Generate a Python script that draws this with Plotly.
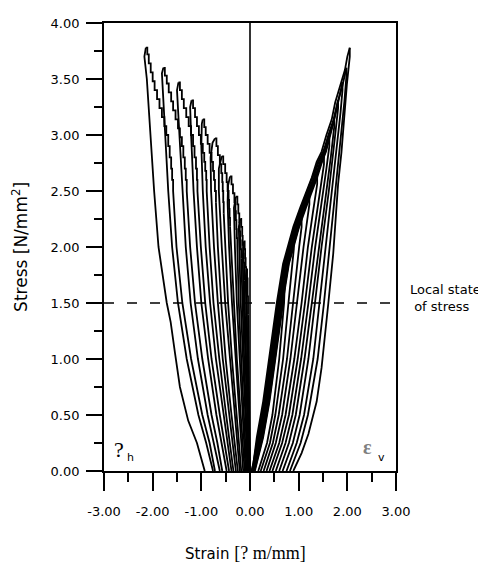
import plotly.graph_objects as go

# ---------------- data: left fan (horizontal strain, eps_h) ----------------
# rising (outer, smooth) branches, one list per load cycle
LEFT_SMOOTH_Y = [
    [0, 0.1, 0.25, 0.45, 0.75, 1.05, 1.33, 1.5, 2.0, 2.5, 3.0, 3.5, 3.7, 3.78],
    [0, 0.25, 0.5, 1.0, 1.5, 2.0, 2.5, 3.0, 3.4, 3.55, 3.60],
    [0, 0.25, 0.5, 1.0, 1.5, 2.0, 2.5, 3.0, 3.4, 3.47],
    [0, 0.25, 0.5, 1.0, 1.5, 2.0, 2.5, 3.0, 3.25, 3.31],
    [0, 0.25, 0.5, 1.0, 1.5, 2.0, 2.5, 2.9, 3.1, 3.14],
    [0, 0.25, 0.5, 1.0, 1.5, 2.0, 2.5, 2.8, 2.93, 2.97],
    [0, 0.25, 0.5, 1.0, 1.5, 2.0, 2.5, 2.7, 2.81],
    [0, 0.5, 1.0, 1.5, 2.0, 2.4, 2.55, 2.63],
    [0, 0.5, 1.0, 1.5, 2.0, 2.35, 2.45],
    [0, 0.5, 1.0, 1.5, 2.0, 2.18, 2.25],
    [0, 0.5, 1.0, 1.5, 1.9, 2.05],
    [0, 0.5, 1.0, 1.5, 1.72, 1.80],
]
LEFT_SMOOTH_X = [
    [-0.93, -0.99, -1.09, -1.27, -1.44, -1.54, -1.63, -1.71, -1.88, -1.97, -2.04, -2.12, -2.17, -2.14],
    [-0.76, -0.90, -1.06, -1.30, -1.48, -1.60, -1.68, -1.74, -1.80, -1.81, -1.78],
    [-0.62, -0.74, -0.87, -1.07, -1.22, -1.32, -1.39, -1.45, -1.50, -1.47],
    [-0.48, -0.58, -0.69, -0.86, -1.00, -1.09, -1.16, -1.21, -1.23, -1.20],
    [-0.38, -0.46, -0.55, -0.70, -0.82, -0.91, -0.97, -1.00, -0.99, -0.97],
    [-0.29, -0.36, -0.43, -0.56, -0.66, -0.74, -0.80, -0.81, -0.77, -0.72],
    [-0.21, -0.26, -0.32, -0.42, -0.51, -0.58, -0.64, -0.64, -0.58],
    [-0.14, -0.22, -0.30, -0.37, -0.43, -0.46, -0.45, -0.41],
    [-0.09, -0.15, -0.21, -0.27, -0.31, -0.33, -0.29],
    [-0.05, -0.10, -0.15, -0.19, -0.22, -0.23, -0.20],
    [-0.02, -0.06, -0.10, -0.13, -0.15, -0.13],
    [0.00, -0.03, -0.06, -0.08, -0.09, -0.07],
]
# falling (inner, jagged) branches: upper stepped part
LEFT_JAG_TOP_Y = [
    [3.78, 3.72, 3.64, 3.56, 3.48, 3.40, 3.32, 3.24, 3.16, 3.08, 3.00, 2.90, 2.80, 2.70, 2.60, 2.50],
    [3.60, 3.53, 3.46, 3.38, 3.30, 3.22, 3.14, 3.06, 2.98, 2.90, 2.80, 2.70, 2.60, 2.50],
    [3.47, 3.40, 3.32, 3.24, 3.16, 3.08, 3.00, 2.90, 2.80, 2.70, 2.60, 2.50],
    [3.31, 3.24, 3.16, 3.08, 3.00, 2.92, 2.84, 2.76, 2.68, 2.60, 2.50],
    [3.14, 3.07, 3.00, 2.92, 2.84, 2.76, 2.68, 2.60, 2.50, 2.40],
    [2.97, 2.90, 2.82, 2.74, 2.66, 2.58, 2.50, 2.40, 2.30],
    [2.81, 2.74, 2.66, 2.58, 2.50, 2.42, 2.34, 2.26, 2.18],
    [2.63, 2.56, 2.48, 2.40, 2.32, 2.24, 2.16, 2.08, 2.00],
    [2.45, 2.38, 2.30, 2.22, 2.14, 2.06, 1.98, 1.90],
    [2.25, 2.18, 2.10, 2.02, 1.94, 1.86, 1.78, 1.70],
    [2.05, 1.98, 1.90, 1.82, 1.74, 1.66, 1.58, 1.50],
    [1.80, 1.72, 1.64, 1.56, 1.48, 1.40],
]
LEFT_JAG_TOP_X = [
    [-2.14, -2.11, -2.08, -2.04, -2.00, -1.96, -1.91, -1.86, -1.81, -1.76, -1.72, -1.68, -1.65, -1.62, -1.60, -1.58],
    [-1.78, -1.75, -1.71, -1.67, -1.62, -1.58, -1.53, -1.48, -1.44, -1.40, -1.37, -1.34, -1.32, -1.30],
    [-1.47, -1.44, -1.40, -1.36, -1.31, -1.26, -1.21, -1.17, -1.14, -1.11, -1.09, -1.08],
    [-1.20, -1.17, -1.13, -1.09, -1.05, -1.01, -0.97, -0.94, -0.92, -0.90, -0.89],
    [-0.97, -0.94, -0.91, -0.87, -0.83, -0.79, -0.76, -0.74, -0.72, -0.70],
    [-0.72, -0.69, -0.66, -0.62, -0.59, -0.57, -0.56, -0.55, -0.54],
    [-0.58, -0.55, -0.51, -0.48, -0.46, -0.44, -0.43, -0.42, -0.41],
    [-0.41, -0.38, -0.35, -0.32, -0.30, -0.29, -0.28, -0.27, -0.26],
    [-0.29, -0.26, -0.24, -0.22, -0.21, -0.20, -0.19, -0.18],
    [-0.20, -0.18, -0.16, -0.15, -0.14, -0.13, -0.12, -0.12],
    [-0.13, -0.11, -0.10, -0.09, -0.08, -0.08, -0.07, -0.07],
    [-0.07, -0.06, -0.05, -0.05, -0.04, -0.04],
]
# falling branches: lower part
LEFT_JAG_LOW_Y = [
    [2.50, 2.00, 1.50, 1.00, 0.50, 0.25, 0.00],
    [2.50, 2.00, 1.50, 1.00, 0.50, 0.25, 0.00],
    [2.50, 2.00, 1.50, 1.00, 0.50, 0.25, 0.00],
    [2.50, 2.00, 1.50, 1.00, 0.50, 0.25, 0.00],
    [2.40, 2.00, 1.50, 1.00, 0.50, 0.25, 0.00],
    [2.30, 2.00, 1.50, 1.00, 0.50, 0.25, 0.00],
    [2.18, 1.50, 1.00, 0.50, 0.00],
    [2.00, 1.50, 1.00, 0.50, 0.00],
    [1.90, 1.50, 1.00, 0.50, 0.00],
    [1.70, 1.00, 0.50, 0.00],
    [1.50, 1.00, 0.50, 0.00],
    [1.40, 0.70, 0.00],
]
LEFT_JAG_LOW_X = [
    [-1.58, -1.51, -1.39, -1.21, -0.98, -0.83, -0.72],
    [-1.30, -1.23, -1.13, -0.98, -0.79, -0.67, -0.57],
    [-1.08, -1.01, -0.92, -0.79, -0.62, -0.52, -0.43],
    [-0.89, -0.83, -0.75, -0.63, -0.49, -0.41, -0.34],
    [-0.70, -0.66, -0.59, -0.50, -0.38, -0.31, -0.25],
    [-0.54, -0.51, -0.45, -0.37, -0.28, -0.23, -0.18],
    [-0.41, -0.33, -0.27, -0.19, -0.11],
    [-0.26, -0.23, -0.18, -0.12, -0.07],
    [-0.18, -0.16, -0.12, -0.08, -0.04],
    [-0.12, -0.08, -0.05, -0.02],
    [-0.07, -0.05, -0.03, -0.01],
    [-0.04, -0.02, 0.00],
]

# ---------------- data: right fan (vertical strain, eps_v) ----------------
RIGHT_SMOOTH_Y = [
    [3.78, 3.70, 3.45, 3.14, 2.85, 2.56, 2.27, 1.94, 1.50, 0.92, 0.62, 0.33, 0.16, 0.0],
    [3.60, 3.52, 3.3, 3.0, 2.5, 2.0, 1.5, 1.0, 0.5, 0.25, 0],
    [3.47, 3.40, 3.2, 3.0, 2.5, 2.0, 1.5, 1.0, 0.5, 0.25, 0],
    [3.31, 3.24, 3.0, 2.5, 2.0, 1.5, 1.0, 0.5, 0.25, 0],
    [3.14, 3.07, 2.8, 2.5, 2.0, 1.5, 1.0, 0.5, 0.25, 0],
    [2.97, 2.90, 2.7, 2.5, 2.0, 1.5, 1.0, 0.5, 0.25, 0],
    [2.81, 2.74, 2.5, 2.0, 1.5, 1.0, 0.5, 0.25, 0],
    [2.63, 2.56, 2.3, 2.0, 1.5, 1.0, 0.5, 0.25, 0],
    [2.45, 2.38, 2.0, 1.5, 1.0, 0.5, 0.25, 0],
    [2.25, 2.18, 2.0, 1.5, 1.0, 0.5, 0.25, 0],
    [2.05, 1.98, 1.5, 1.0, 0.5, 0.25, 0],
    [1.80, 1.73, 1.5, 1.0, 0.5, 0.25, 0],
]
RIGHT_SMOOTH_X = [
    [2.05, 2.05, 1.99, 1.94, 1.88, 1.81, 1.77, 1.71, 1.61, 1.47, 1.37, 1.20, 1.06, 0.89],
    [1.98, 1.98, 1.94, 1.87, 1.75, 1.64, 1.52, 1.39, 1.19, 1.04, 0.82],
    [1.90, 1.90, 1.86, 1.81, 1.68, 1.56, 1.44, 1.30, 1.11, 0.96, 0.75],
    [1.81, 1.81, 1.75, 1.62, 1.47, 1.34, 1.20, 1.02, 0.88, 0.67],
    [1.73, 1.73, 1.66, 1.57, 1.41, 1.27, 1.12, 0.94, 0.80, 0.60],
    [1.63, 1.63, 1.57, 1.50, 1.34, 1.20, 1.05, 0.87, 0.73, 0.53],
    [1.52, 1.52, 1.44, 1.27, 1.13, 0.98, 0.80, 0.66, 0.46],
    [1.38, 1.38, 1.29, 1.19, 1.06, 0.91, 0.73, 0.60, 0.40],
    [1.22, 1.22, 1.10, 0.96, 0.83, 0.66, 0.53, 0.34],
    [1.06, 1.06, 1.01, 0.89, 0.76, 0.59, 0.47, 0.28],
    [0.90, 0.90, 0.79, 0.68, 0.52, 0.41, 0.22],
    [0.72, 0.72, 0.70, 0.60, 0.46, 0.35, 0.17],
]
RIGHT_JAG_Y = [
    [0, 0.07, 0.30, 0.62, 1.06, 1.50, 1.85, 2.03, 2.18, 2.35, 2.47, 2.62, 2.76, 2.85, 3.0, 3.14, 3.29, 3.44, 3.58, 3.70, 3.78],
    [0, 0.30, 0.62, 1.06, 1.50, 1.85, 2.03, 2.18, 2.35, 2.47, 2.62, 2.76, 2.85, 3.0, 3.14, 3.29, 3.44, 3.60],
    [0, 0.30, 0.62, 1.06, 1.50, 1.85, 2.03, 2.18, 2.35, 2.47, 2.62, 2.76, 2.85, 3.0, 3.14, 3.29, 3.47],
    [0, 0.30, 0.62, 1.06, 1.50, 1.85, 2.03, 2.18, 2.35, 2.47, 2.62, 2.76, 2.85, 3.0, 3.14, 3.31],
    [0, 0.30, 0.62, 1.06, 1.50, 1.85, 2.03, 2.18, 2.35, 2.47, 2.62, 2.76, 2.85, 3.0, 3.14],
    [0, 0.30, 0.62, 1.06, 1.50, 1.85, 2.03, 2.18, 2.35, 2.47, 2.62, 2.76, 2.85, 2.97],
    [0, 0.30, 0.62, 1.06, 1.50, 1.85, 2.03, 2.18, 2.35, 2.47, 2.62, 2.72, 2.81],
    [0, 0.30, 0.62, 1.06, 1.50, 1.85, 2.03, 2.18, 2.35, 2.47, 2.55, 2.63],
    [0, 0.30, 0.62, 1.06, 1.50, 1.85, 2.03, 2.18, 2.30, 2.38, 2.45],
    [0, 0.30, 0.62, 1.06, 1.50, 1.85, 2.03, 2.15, 2.25],
    [0, 0.30, 0.62, 1.06, 1.50, 1.75, 1.92, 2.05],
    [0, 0.30, 0.62, 1.06, 1.50, 1.68, 1.80],
]
RIGHT_JAG_X = [
    [0.03, 0.07, 0.14, 0.27, 0.41, 0.55, 0.68, 0.79, 0.89, 1.03, 1.13, 1.27, 1.37, 1.47, 1.57, 1.68, 1.75, 1.85, 1.95, 2.00, 2.05],
    [0.05, 0.18, 0.31, 0.45, 0.59, 0.72, 0.83, 0.93, 1.07, 1.17, 1.31, 1.41, 1.51, 1.61, 1.72, 1.80, 1.90, 1.98],
    [0.06, 0.21, 0.34, 0.48, 0.62, 0.75, 0.86, 0.96, 1.10, 1.20, 1.34, 1.44, 1.53, 1.63, 1.73, 1.81, 1.90],
    [0.08, 0.24, 0.37, 0.51, 0.65, 0.78, 0.89, 0.99, 1.13, 1.23, 1.36, 1.46, 1.55, 1.64, 1.73, 1.81],
    [0.09, 0.26, 0.39, 0.53, 0.67, 0.80, 0.91, 1.01, 1.15, 1.25, 1.38, 1.48, 1.56, 1.65, 1.73],
    [0.04, 0.16, 0.29, 0.43, 0.57, 0.70, 0.81, 0.91, 1.05, 1.15, 1.29, 1.40, 1.50, 1.63],
    [0.06, 0.20, 0.33, 0.47, 0.61, 0.74, 0.85, 0.95, 1.09, 1.19, 1.33, 1.43, 1.52],
    [0.07, 0.23, 0.36, 0.50, 0.64, 0.77, 0.88, 0.98, 1.12, 1.22, 1.30, 1.38],
    [0.05, 0.18, 0.31, 0.45, 0.59, 0.72, 0.83, 0.93, 1.04, 1.13, 1.22],
    [0.08, 0.25, 0.38, 0.52, 0.66, 0.79, 0.90, 0.98, 1.06],
    [0.07, 0.22, 0.35, 0.49, 0.63, 0.72, 0.81, 0.90],
    [0.10, 0.27, 0.40, 0.54, 0.68, 0.71, 0.72],
]

LOCAL_STATE_STRESS = 1.5
ZERO_STRAIN = 0.0
X_TICKS = [-3, -2, -1, 0, 1, 2, 3]
X_TICK_LABELS = ["-3.00", "-2.00", "-1.00", "0.00", "1.00", "2.00", "3.00"]
Y_TICKS = [0, 0.5, 1.0, 1.5, 2.0, 2.5, 3.0, 3.5, 4.0]
Y_TICK_LABELS = ["0.00", "0.50", "1.00", "1.50", "2.00", "2.50", "3.00", "3.50", "4.00"]

# ---------------- figure ----------------
fig = go.Figure()
LW = 1.8

def add(xs, ys, shape="linear"):
    fig.add_trace(go.Scatter(x=xs, y=ys, mode="lines",
                             line=dict(color="black", width=LW, shape=shape),
                             hoverinfo="skip", showlegend=False))

for xs, ys in zip(LEFT_SMOOTH_X, LEFT_SMOOTH_Y):
    add(xs, ys)
for xs, ys in zip(LEFT_JAG_TOP_X, LEFT_JAG_TOP_Y):
    add(xs, ys, "hv")
for xs, ys in zip(LEFT_JAG_LOW_X, LEFT_JAG_LOW_Y):
    add(xs, ys)
for xs, ys in zip(RIGHT_SMOOTH_X, RIGHT_SMOOTH_Y):
    add(xs, ys)
for xs, ys in zip(RIGHT_JAG_X, RIGHT_JAG_Y):
    add(xs, ys)

# reference lines
fig.add_shape(type="line", xref="x", yref="y", x0=ZERO_STRAIN, x1=ZERO_STRAIN, y0=0, y1=4,
              line=dict(color="black", width=1.6))
fig.add_shape(type="line", xref="x", yref="y", x0=-3, x1=3,
              y0=LOCAL_STATE_STRESS, y1=LOCAL_STATE_STRESS,
              line=dict(color="black", width=1.7, dash="10px,13px"))

TICKFONT = dict(family="DejaVu Sans", size=13, color="black")
# the page body has an 8px default margin, so the figure is 8px smaller on each side
fig.update_layout(
    width=478, height=558,
    margin=dict(l=96, r=90, t=8, b=95),
    paper_bgcolor="white", plot_bgcolor="white",
    showlegend=False, hovermode=False,
    xaxis=dict(range=[-3, 3], tickvals=X_TICKS, ticktext=X_TICK_LABELS,
               ticks="outside", ticklen=18, tickwidth=1.6, tickcolor="black",
               showline=True, linecolor="black", linewidth=1.7, mirror=True,
               showgrid=False, zeroline=False, tickfont=TICKFONT,
               ticklabelstandoff=10,
               minor=dict(dtick=0.5, tick0=-3, ticks="outside", ticklen=9,
                          tickwidth=1.6, tickcolor="black", showgrid=False)),
    yaxis=dict(range=[0, 4], tickvals=Y_TICKS, ticktext=Y_TICK_LABELS,
               ticks="outside", ticklen=16, tickwidth=1.6, tickcolor="black",
               showline=True, linecolor="black", linewidth=1.7, mirror=True,
               showgrid=False, zeroline=False, tickfont=TICKFONT,
               ticklabelstandoff=4,
               minor=dict(dtick=0.25, tick0=0, ticks="outside", ticklen=8,
                          tickwidth=1.6, tickcolor="black", showgrid=False)),
)

# axis titles and labels
fig.add_annotation(xref="paper", yref="paper", x=-0.288, y=0.5, textangle=-90,
                   text="Stress [N/mm<sup>2</sup>]", showarrow=False,
                   xanchor="center", yanchor="middle",
                   font=dict(family="DejaVu Sans", size=17, color="black"))
fig.add_annotation(xref="paper", yref="paper", x=0.483, y=-0.182,
                   text='Strain <span style="font-family:Liberation Serif;font-size:18px">[? m/mm]</span>',
                   showarrow=False, xanchor="center", yanchor="middle",
                   font=dict(family="DejaVu Sans", size=15, color="black"))
fig.add_annotation(xref="paper", yref="paper", x=1.041, y=0.3857,
                   text="Local state<br>\u00a0of stress", showarrow=False,
                   xanchor="left", yanchor="middle", align="left",
                   font=dict(family="DejaVu Sans", size=13, color="black"))
fig.add_annotation(xref="x", yref="y", x=-2.70, y=0.19, text="?", showarrow=False,
                   xanchor="center", yanchor="middle",
                   font=dict(family="Liberation Serif", size=22, color="black"))
fig.add_annotation(xref="x", yref="y", x=-2.46, y=0.12, text="h", showarrow=False,
                   xanchor="center", yanchor="middle",
                   font=dict(family="DejaVu Sans", size=11, color="black"))
fig.add_annotation(xref="x", yref="y", x=2.41, y=0.21, text="<b>\u03b5</b>", showarrow=False,
                   xanchor="center", yanchor="middle",
                   font=dict(family="Liberation Serif", size=20, color="#808080"))
fig.add_annotation(xref="x", yref="y", x=2.70, y=0.12, text="v", showarrow=False,
                   xanchor="center", yanchor="middle",
                   font=dict(family="DejaVu Sans", size=11, color="black"))

fig.write_html("out.html")
